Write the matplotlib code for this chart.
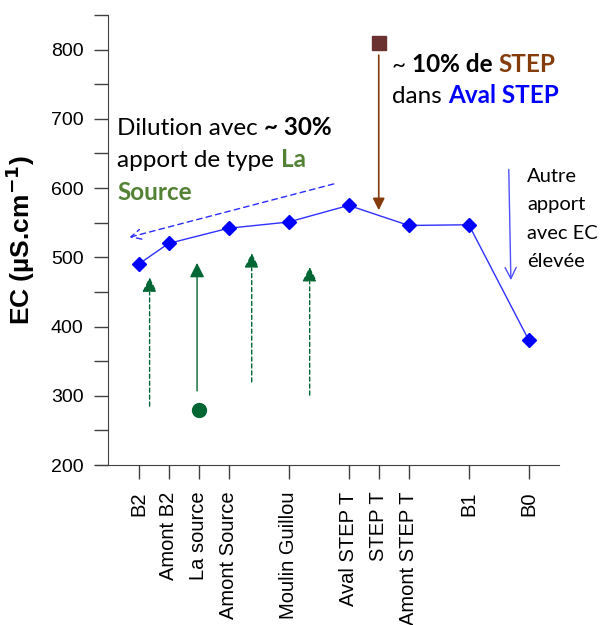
import matplotlib
matplotlib.use('Agg')
import matplotlib.pyplot as plt
import numpy as np

# stations le long du cours d'eau (position sur l'axe x)
stations = ['B2', 'Amont B2', 'La source', 'Amont Source', 'Moulin Guillou',
            'Aval STEP T', 'STEP T', 'Amont STEP T', 'B1', 'B0']
positions = [0, 1, 2, 3, 5, 7, 8, 9, 11, 13]

# conductivite riviere (µS/cm)
riv_pos = [0, 1, 3, 5, 7, 9, 11, 13]
riv_ec = [490, 520, 542, 551, 575, 546, 547, 380]

# apports
source_pos = [2]
source_ec = [280]
step_pos = [8]
step_ec = [810]

# fleches vertes (x, bas, haut, style)
green_x = [0.37, 1.95, 3.77, 5.7]
green_bas = [285, 307, 320, 301]
green_haut = [471, 492, 506, 486]
green_ls = ['dashed', 'solid', 'dashed', 'dashed']

BLEU = '#0000FF'
VERT = '#548235'
VERT_F = '#006633'
BRUN = '#843C0C'

fig = plt.figure(figsize=(6.01, 6.25), dpi=100)
ax = fig.add_axes([0.158, 0.256, 0.772, 0.72])

ax.plot(riv_pos, riv_ec, color='#3030FF', lw=1, marker='D', ms=7,
        mfc=BLEU, mec=BLEU, zorder=3)
ax.plot(source_pos, source_ec, 'o', color=VERT_F, ms=10, zorder=3)
ax.plot(step_pos, step_ec, 's', color='#6B3030', ms=10, zorder=3)

for x, b, h, ls in zip(green_x, green_bas, green_haut, green_ls):
    st = '-' if ls == 'solid' else (0, (3, 2))
    ax.annotate('', xy=(x, h), xytext=(x, b),
                arrowprops=dict(arrowstyle='-|>', color=VERT_F, lw=1,
                                linestyle=st, mutation_scale=22,
                                shrinkA=0, shrinkB=0))

# fleche STEP
ax.annotate('', xy=(8, 568), xytext=(8, 792),
            arrowprops=dict(arrowstyle='-|>', color=BRUN, lw=1.2,
                            mutation_scale=18, shrinkA=0, shrinkB=0))
# fleche dilution
ax.annotate('', xy=(-0.3, 529), xytext=(6.5, 606),
            arrowprops=dict(arrowstyle='->', color='#2B2BFF', lw=1,
                            linestyle=(0, (4, 3)), mutation_scale=18,
                            shrinkA=0, shrinkB=0))
# fleche autre apport
ax.annotate('', xy=(12.4, 467), xytext=(12.33, 627),
            arrowprops=dict(arrowstyle='->', color='#5050FF', lw=1,
                            mutation_scale=20, shrinkA=0, shrinkB=0))

fnt = 'Lato'
fs = 17.5


def ligne(x, y, morceaux):
    # morceaux: liste de (texte, couleur, gras)
    t0, c0, b0 = morceaux[0]
    prev = ax.text(x, y, t0, color=c0, fontsize=fs, family=fnt,
                   fontweight='bold' if b0 else 'normal', va='baseline')
    for t, c, b in morceaux[1:]:
        prev = ax.annotate(t, xy=(1, 0), xycoords=prev, va='bottom', ha='left',
                           color=c, fontsize=fs, family=fnt,
                           fontweight='bold' if b else 'normal')


ligne(-0.7, 676, [('Dilution avec ', 'black', False), ('~ 30%', 'black', True)])
ligne(-0.7, 630, [('apport de type ', 'black', False), ('La', VERT, True)])
ligne(-0.7, 583, [('Source', VERT, True)])
ligne(8.43, 767, [('~ ', 'black', False), ('10% de ', 'black', True),
                  ('STEP', BRUN, True)])
ligne(8.43, 723, [('dans ', 'black', False), ('Aval STEP', BLEU, True)])

for i, t in enumerate(['Autre', 'apport', 'avec EC', 'élevée']):
    ax.text(12.95, 609 - i * 41, t, fontsize=14.5, family=fnt, va='baseline')

ax.set_xlim(-1.45, 14)
ax.set_ylim(200, 850)
ax.spines['top'].set_visible(False)
ax.spines['right'].set_visible(False)
ax.spines['left'].set_position(('data', -1))
for s in ['left', 'bottom']:
    ax.spines[s].set_color('#404040')

ax.set_yticks(np.arange(200, 801, 100))
ax.set_yticks(np.arange(250, 851, 100), minor=True)
ax.set_xticks(positions)
ax.set_xticklabels(stations, rotation=90, family='Liberation Sans', fontsize=14.5)
for lab in ax.get_yticklabels():
    lab.set_family('Liberation Sans')
    lab.set_fontsize(14)
ax.tick_params(axis='both', which='both', direction='out', length=10,
               color='#404040', width=1)
ax.tick_params(axis='y', pad=8)
ax.tick_params(axis='x', pad=9)

ax.set_ylabel('EC (µS.cm$^{\\mathbf{-1}}$)', fontsize=19, fontweight='bold',
              family='Liberation Sans', labelpad=10)

fig.savefig('out.png', dpi=100)
